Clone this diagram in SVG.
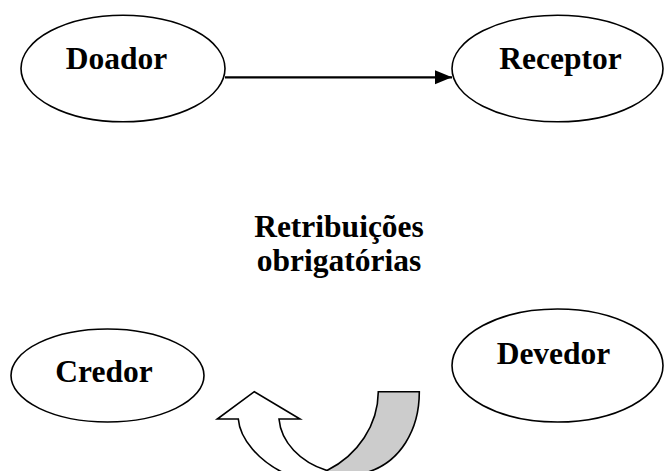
<svg xmlns="http://www.w3.org/2000/svg" width="665" height="471" viewBox="0 0 665 471">
  <style>
    .node ellipse { fill: #ffffff; stroke: #000000; stroke-width: 1.6; }
    .label { font-family: "Liberation Serif", "Times New Roman", serif; font-weight: bold; font-size: 31.5px; fill: #000000; text-anchor: middle; }
    .link { stroke: #000000; stroke-width: 2.3; fill: none; }
    .shape { stroke: #000000; stroke-width: 1.6; stroke-linejoin: miter; }
  </style>
  <defs>
    <marker id="arrowhead" markerUnits="userSpaceOnUse" markerWidth="18" markerHeight="15" refX="17" refY="7" orient="auto">
      <path d="M0,0 L17,7 L0,14 Z" fill="#000000"/>
    </marker>
  </defs>
  <rect width="665" height="471" fill="#ffffff"/>

  <!-- connectors -->
  <g id="connectors">
    <line class="link" x1="225" y1="77.3" x2="452" y2="77.3" marker-end="url(#arrowhead)"/>
  </g>

  <!-- upper row -->
  <g id="doador" class="node">
    <ellipse cx="123" cy="68.5" rx="102" ry="53.3"/>
    <text class="label" x="116.5" y="69">Doador</text>
  </g>
  <g id="receptor" class="node">
    <ellipse cx="557.5" cy="68.5" rx="105.5" ry="53.3"/>
    <text class="label" x="560.5" y="69">Receptor</text>
  </g>

  <!-- caption between the rows -->
  <g id="retribuicoes">
    <text class="label" x="339" y="237">Retribuições</text>
    <text class="label" x="339" y="271">obrigatórias</text>
  </g>

  <!-- lower row -->
  <g id="credor" class="node">
    <ellipse cx="107.5" cy="375.5" rx="96.5" ry="46.5"/>
    <text class="label" x="104" y="382">Credor</text>
  </g>
  <g id="devedor" class="node">
    <ellipse cx="557.5" cy="365.5" rx="105.5" ry="56.5"/>
    <text class="label" x="553.5" y="364">Devedor</text>
  </g>

  <!-- curved up arrow: shaded back band and white front with head -->
  <g id="curved-arrow">
    <path class="shape" fill="#cccccc"
          d="M378.3,391.7 L419.3,391.7 C419.5,430 400,462 368,472 L368,485 L327,485 L327,470.5 C358,455 378,425 378.3,391.7 Z"/>
    <path class="shape" fill="#ffffff"
          d="M254.3,391.7 L300,419 L279,419 C281,442 300,462 327,470.5 L327,485 L282,485 L282,472 C260,461 240,440 238.3,419 L217.3,419 Z"/>
  </g>
</svg>
